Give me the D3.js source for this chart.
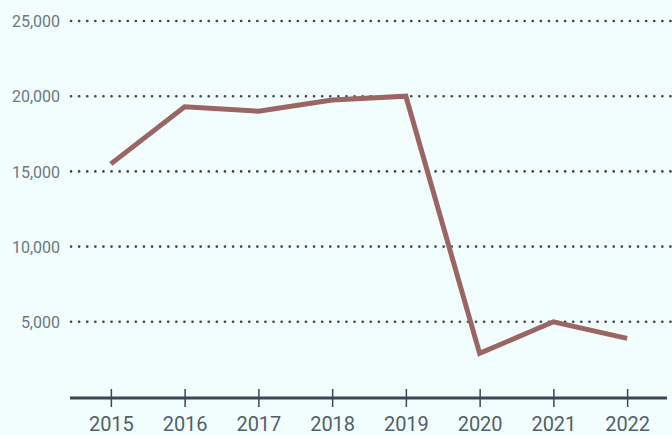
<!DOCTYPE html>
<html><head><meta charset="utf-8">
<script src="https://cdn.jsdelivr.net/npm/d3@7"></script>
<style>html,body{margin:0;padding:0;background:#f2fefe;}svg{display:block;}</style>
</head><body><svg id="c" width="672" height="435"></svg>
<script>
const years = ["2015","2016","2017","2018","2019","2020","2021","2022"];
const values = [15500, 19300, 19000, 19750, 20000, 2900, 5000, 3900];
const yTicks = [5000, 10000, 15000, 20000, 25000];

const svg = d3.select("#c");
const W = 672, H = 435;
svg.append("rect").attr("width", W).attr("height", H).attr("fill", "#f2fefe");

const x = d3.scalePoint().domain(years).range([74, 664]).padding(0.5);
const y = d3.scaleLinear().domain([0, 25000]).range([397, 21]);

// gridlines
svg.append("g").selectAll("line").data(yTicks).join("line")
  .attr("x1", 71).attr("x2", 672)
  .attr("y1", d => y(d)).attr("y2", d => y(d))
  .attr("stroke", "#3d4556").attr("stroke-width", 2.6)
  .attr("stroke-linecap", "round").attr("stroke-dasharray", "0.1,8");

// y labels
const yAxis = d3.axisLeft(y).tickValues(yTicks).tickSize(0).tickPadding(0)
  .tickFormat(d3.format(","));
const ga = svg.append("g").attr("transform", "translate(60,0)").call(yAxis);
ga.select(".domain").remove();
ga.selectAll("text").attr("font-family", "Roboto").attr("font-size", 16)
  .attr("fill", "#6a777e").attr("dy", "0.35em");

// x axis
svg.append("line").attr("x1", 70).attr("x2", 667).attr("y1", 398).attr("y2", 398)
  .attr("stroke", "#3d4556").attr("stroke-width", 3);
const xAxis = d3.axisBottom(x).tickSize(0).tickPadding(0);
const gx = svg.append("g").attr("transform", "translate(0,398)").call(xAxis);
gx.select(".domain").remove();
gx.selectAll(".tick").append("line").attr("y1", -9).attr("y2", 9)
  .attr("stroke", "#3d4556").attr("stroke-width", 1.5);
gx.selectAll("text").attr("font-family", "Roboto").attr("font-size", 20)
  .attr("fill", "#52606a").attr("y", 33).attr("dy", 0);

// line
const line = d3.line().x((d, i) => x(years[i])).y(d => y(d));
svg.append("path").datum(values).attr("d", line)
  .attr("fill", "none").attr("stroke", "#9a6563").attr("stroke-width", 5)
  .attr("stroke-linejoin", "miter");
</script></body></html>
